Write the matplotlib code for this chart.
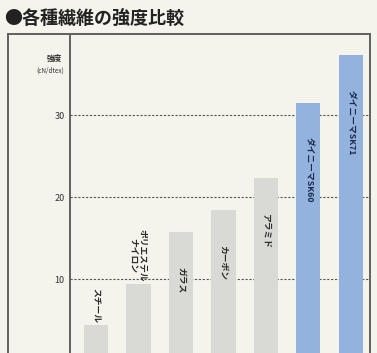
import matplotlib
matplotlib.use("Agg")
import matplotlib.pyplot as plt
from matplotlib.lines import Line2D

plt.rcParams["font.family"] = ["Noto Sans CJK JP", "DejaVu Sans"]

# data (cN/dtex)
fibers = ["スチール", "ポリエステル\nナイロン", "ガラス", "カーボン", "アラミド",
          "ダイニーマSK60", "ダイニーマSK71"]
strength = [4.4, 9.4, 15.7, 18.4, 22.3, 31.5, 37.3]
highlight = [False, False, False, False, False, True, True]
yticks = [10, 20, 30]

BG = "#f4f3ec"
GRAY = "#d9d9d5"
BLUE = "#93b3de"
FRAME = "#606060"

fig = plt.figure(figsize=(3.77, 3.53), dpi=100)
fig.patch.set_facecolor(BG)

W, H = 377, 353
ax = fig.add_axes([70 / W, 0, 300 / W, (H - 34) / H])
ax.set_facecolor(BG)

x = list(range(len(fibers)))
colors = [BLUE if h else GRAY for h in highlight]
ax.bar(x, strength, width=0.57, color=colors, zorder=2)

for yv in yticks:
    ax.axhline(yv, color="#555555", lw=0.8, ls=(0, (2, 1.5)), zorder=1)

for xi, v, name, h in zip(x, strength, fibers, highlight):
    tcol = "#1c2a4a" if h else "#2a2a2a"
    if v < 12:
        ax.text(xi, v + 0.3, name, rotation=-90, ha="center", va="bottom",
                fontsize=6.3, fontweight="bold", color=tcol, linespacing=1.1,
                zorder=3)
    else:
        ax.text(xi, v - 4.2, name, rotation=-90, ha="center", va="top",
                fontsize=6.3, fontweight="bold", color=tcol, linespacing=1.1,
                zorder=3)

ax.set_xlim(-0.61, 6.45)
ax.set_ylim(1.0, 39.9)
ax.set_xticks([])
ax.set_yticks(yticks)
ax.set_yticklabels([str(t) for t in yticks], fontsize=6.5, color="#333333")
ax.tick_params(axis="y", length=0, pad=4)

for side in ["left", "top", "right"]:
    ax.spines[side].set_color(FRAME)
    ax.spines[side].set_linewidth(1.4)
ax.spines["bottom"].set_visible(False)

# outer frame of the label panel
top = 1 - 34 / H
fig.add_artist(Line2D([8 / W, 70 / W], [top, top], color=FRAME, lw=1.4))
fig.add_artist(Line2D([8 / W, 8 / W], [0, top], color=FRAME, lw=1.4))

fig.text(62 / W, 1 - 58 / H, "強度", ha="right", va="center", fontsize=5.5,
         fontweight="bold", color="#333333")
fig.text(64 / W, 1 - 71 / H, "(cN/dtex)", ha="right", va="center",
         fontsize=4.5, color="#333333")

fig.text(4 / W, 1 - 18 / H, "●各種繊維の強度比較", ha="left", va="center",
         fontsize=13, fontweight="bold", color="#222222")

fig.savefig("out.png", dpi=100, facecolor=BG)
